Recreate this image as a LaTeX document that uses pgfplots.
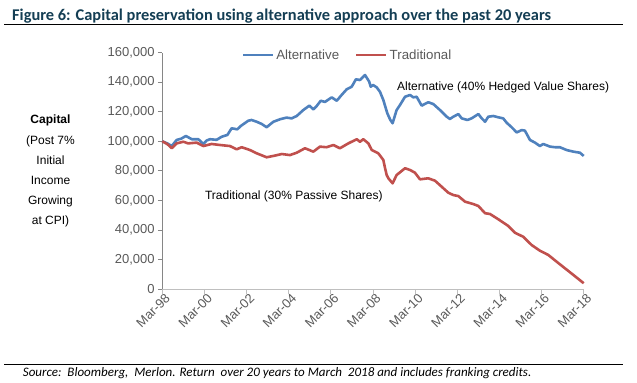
\documentclass[border=0pt]{standalone}
\usepackage{pgfplots}
\pgfplotsset{compat=1.18}
\usepackage{fontspec}
\setmainfont{Liberation Sans}
\newfontfamily\carlito{Carlito}
\definecolor{altblue}{RGB}{79,129,189}
\definecolor{tradred}{RGB}{192,80,77}
\definecolor{titlecol}{RGB}{20,62,84}
\definecolor{ticktxt}{RGB}{89,89,89}
\begin{document}
\begin{tikzpicture}
\path[use as bounding box] (0,0) rectangle (637bp,-383bp);
% title and rules
\node[anchor=base west, inner sep=0pt, text=titlecol, font=\carlito\bfseries\fontsize{16.4bp}{17bp}\selectfont] at (12bp,-20bp) {Figure 6: Capital preservation using alternative approach over the past 20 years};
\draw[line width=0.9bp] (4bp,-24bp) -- (623bp,-24bp);
\draw[line width=0.9bp] (4bp,-364bp) -- (623bp,-364bp);
\node[anchor=base west, inner sep=0pt, font=\carlito\itshape\fontsize{13bp}{14bp}\selectfont] at (22.7bp,-376bp) {Source:\ \ Bloomberg,\ \ Merlon. Return\ \ over 20 years to March\ \ 2018 and includes franking credits.};
% y label
\node[align=center, inner sep=0pt, font=\fontsize{12bp}{20.2bp}\selectfont, anchor=north] at (50.5bp,-115bp) {\textbf{Capital}\\(Post 7\%\\Initial\\Income\\Growing\\at CPI)};
\begin{axis}[
  at={(162.3bp,-289.3bp)}, anchor=south west,
  scale only axis, width=421.4bp, height=236.8bp,
  xmin=0, xmax=20, ymin=0, ymax=160000,
  enlargelimits=false, clip=false,
  axis x line*=bottom, axis y line*=left,
  x axis line style={draw={rgb,255:red,191;green,191;blue,191}, line width=1.2bp, -},
  y axis line style={draw={rgb,255:red,134;green,134;blue,134}, line width=0.9bp, -},
  xtick={0,2,...,20},
  xticklabels={Mar-98,Mar-00,Mar-02,Mar-04,Mar-06,Mar-08,Mar-10,Mar-12,Mar-14,Mar-16,Mar-18},
  ytick={0,20000,...,160000},
  scaled y ticks=false,
  yticklabel={\pgfmathprintnumber[fixed,precision=0,1000 sep={,},assume math mode=true]{\tick}},
  tick align=outside, major tick length=4.5bp,
  x tick style={draw={rgb,255:red,191;green,191;blue,191}, line width=1bp},
  y tick style={draw={rgb,255:red,134;green,134;blue,134}, line width=0.9bp},
  tick label style={font=\fontsize{13bp}{14bp}\selectfont, text=ticktxt},
  xticklabel style={rotate=45, anchor=north east, inner sep=0.5bp, xshift=3bp},
  yticklabel style={inner sep=2bp, xshift=-1bp},
  legend style={draw=none, fill=none, at={(0.188,0.9895)}, anchor=west, inner sep=0pt,
    font=\fontsize{13.3bp}{14bp}\selectfont, text=ticktxt,
    /tikz/every even column/.append style={column sep=14bp}},
  legend columns=2,
  legend cell align=left,
  legend image code/.code={\draw[#1, line width=2.6bp] (0bp,0bp) -- (30bp,0bp);},
]
\addplot[altblue, line width=2.6bp, line join=round] coordinates {
(0,100000) (0.25,98500) (0.45,96800) (0.68,100900) (0.9,101800) (1.12,103600) (1.4,101400) (1.71,101400) (1.95,98200) (2.1,100500) (2.26,101400) (2.58,101000) (2.82,103100) (3.09,104300) (3.29,108800) (3.56,108100) (3.72,110300) (4.08,113900) (4.24,114400) (4.48,113200) (4.72,111700) (4.95,109500) (5.27,113200) (5.59,114900) (5.9,116000) (6.14,115500) (6.38,117100) (6.69,121100) (6.98,124100) (7.17,121600) (7.33,123900) (7.52,127400) (7.72,126600) (8.04,129700) (8.28,127400) (8.51,131300) (8.75,135100) (8.99,136900) (9.19,141900) (9.38,141400) (9.62,144800) (9.82,140300) (9.89,136900) (10.01,138000) (10.17,136500) (10.33,133500) (10.49,127900) (10.68,118900) (10.82,114500) (10.93,112200) (11.12,121100) (11.28,124500) (11.52,130100) (11.76,131300) (11.91,129700) (12.07,130100) (12.31,124100) (12.62,126400) (12.86,125200) (13.18,121100) (13.5,116600) (13.65,115100) (13.81,116600) (14.05,118400) (14.21,115500) (14.48,114400) (14.68,115500) (15.0,118400) (15.16,115500) (15.32,113200) (15.47,116600) (15.71,117100) (15.95,116200) (16.18,115500) (16.34,112600) (16.58,109500) (16.82,106000) (17.06,107600) (17.21,107200) (17.45,100900) (17.69,99100) (17.92,96800) (18.08,98200) (18.4,96400) (18.64,96000) (18.87,96000) (19.19,94100) (19.51,93000) (19.82,92300) (20.0,90100)
};
\addlegendentry{Alternative}
\addplot[tradred, line width=2.6bp, line join=round] coordinates {
(0,100000) (0.25,98000) (0.45,95300) (0.68,98600) (1.0,99700) (1.23,98600) (1.63,99100) (1.95,96800) (2.34,98200) (2.74,97500) (3.21,96800) (3.53,94600) (3.77,96000) (4.16,94100) (4.48,91900) (4.95,89200) (5.27,90100) (5.67,91400) (6.06,90700) (6.38,92300) (6.77,95300) (7.17,93000) (7.48,96400) (7.8,96000) (8.12,97500) (8.43,95300) (8.83,98600) (9.23,101400) (9.38,99700) (9.54,101400) (9.78,98600) (9.94,94100) (10.25,91900) (10.49,87400) (10.57,82000) (10.65,77200) (10.73,75000) (10.93,71600) (11.12,77200) (11.52,81800) (11.76,80600) (11.99,78800) (12.23,74300) (12.62,75000) (12.94,73400) (13.26,69300) (13.57,65300) (13.81,63700) (14.05,63000) (14.37,59200) (14.76,57600) (15.0,56300) (15.32,51400) (15.55,50900) (15.95,47300) (16.42,42800) (16.74,38200) (17.13,35500) (17.53,29900) (17.92,26100) (18.32,23200) (18.72,18600) (19.11,14200) (19.51,9700) (20.0,4100)
};
\addlegendentry{Traditional}
\node[anchor=west, inner sep=0pt, font=\fontsize{12bp}{13bp}\selectfont] at (axis cs:11.14,136700) {Alternative (40\% Hedged Value Shares)};
\node[anchor=west, inner sep=0pt, font=\fontsize{12bp}{13bp}\selectfont] at (axis cs:2.02,62600) {Traditional (30\% Passive Shares)};
\end{axis}
\end{tikzpicture}
\end{document}
